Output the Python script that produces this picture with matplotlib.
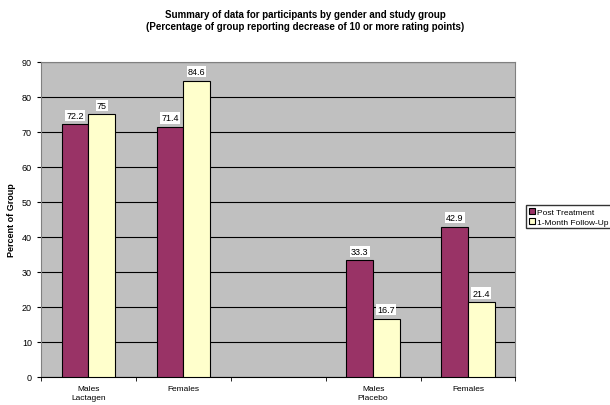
import numpy as np
import matplotlib
matplotlib.use('Agg')
import matplotlib.pyplot as plt

plt.rcParams['font.family'] = ['Liberation Sans', 'DejaVu Sans']

categories = ['Males\nLactagen', 'Females', '', 'Males\nPlacebo', 'Females']
post_treatment = [72.2, 71.4, None, 33.3, 42.9]
follow_up = [75, 84.6, None, 16.7, 21.4]
series_names = ['Post Treatment', '1-Month Follow-Up']

fig = plt.figure(figsize=(6.1, 4.06), dpi=100)
ax = fig.add_axes([0.067, 0.069, 0.778, 0.776])
ax.set_facecolor('#c0c0c0')

x = np.arange(len(categories))
w = 0.28
colors = ['#993366', '#ffffcc']
for i, (vals, name) in enumerate(zip([post_treatment, follow_up], series_names)):
    xs = [xi for xi, v in zip(x, vals) if v is not None]
    vs = [v for v in vals if v is not None]
    off = (i - 0.5) * w
    ax.bar(np.array(xs) + off, vs, w, color=colors[i], edgecolor='black',
           linewidth=0.8, label=name, zorder=3)
    for xi, v in zip(xs, vs):
        ax.text(xi + off, v + 1.3, f'{v:g}', ha='center', va='bottom', fontsize=6.5,
                bbox=dict(facecolor='white', edgecolor='none', pad=0.8), zorder=4)

ax.set_xlim(-0.5, len(categories) - 0.5)
ax.set_ylim(0, 90)
ax.set_yticks(range(0, 91, 10))
ax.yaxis.grid(True, color='black', linewidth=0.8, zorder=0)
ax.set_xticks(x)
ax.set_xticklabels(categories, fontsize=6, linespacing=1.3)
ax.tick_params(axis='x', length=0, pad=6)
ax.set_xticks(np.arange(-0.5, len(categories), 1), minor=True)
ax.tick_params(axis='x', which='minor', length=3, direction='out')
ax.tick_params(axis='y', labelsize=6.5, length=3, direction='out')
for side in ['top', 'right', 'left']:
    ax.spines[side].set_color('#808080')
ax.spines['bottom'].set_color('black')

ax.set_ylabel('Percent of Group', fontsize=6.5, fontweight='bold')

fig.suptitle('Summary of data for participants by gender and study group\n'
             '(Percentage of group reporting decrease of 10 or more rating points)',
             fontsize=7, fontweight='bold', y=0.975)

fig.legend(loc='upper left', bbox_to_anchor=(0.856, 0.502), fontsize=6,
           frameon=True, fancybox=False, edgecolor='black', handlelength=0.7,
           handleheight=0.7, handletextpad=0.3, borderpad=0.3, labelspacing=0.25)

fig.savefig('out.png', dpi=100)
